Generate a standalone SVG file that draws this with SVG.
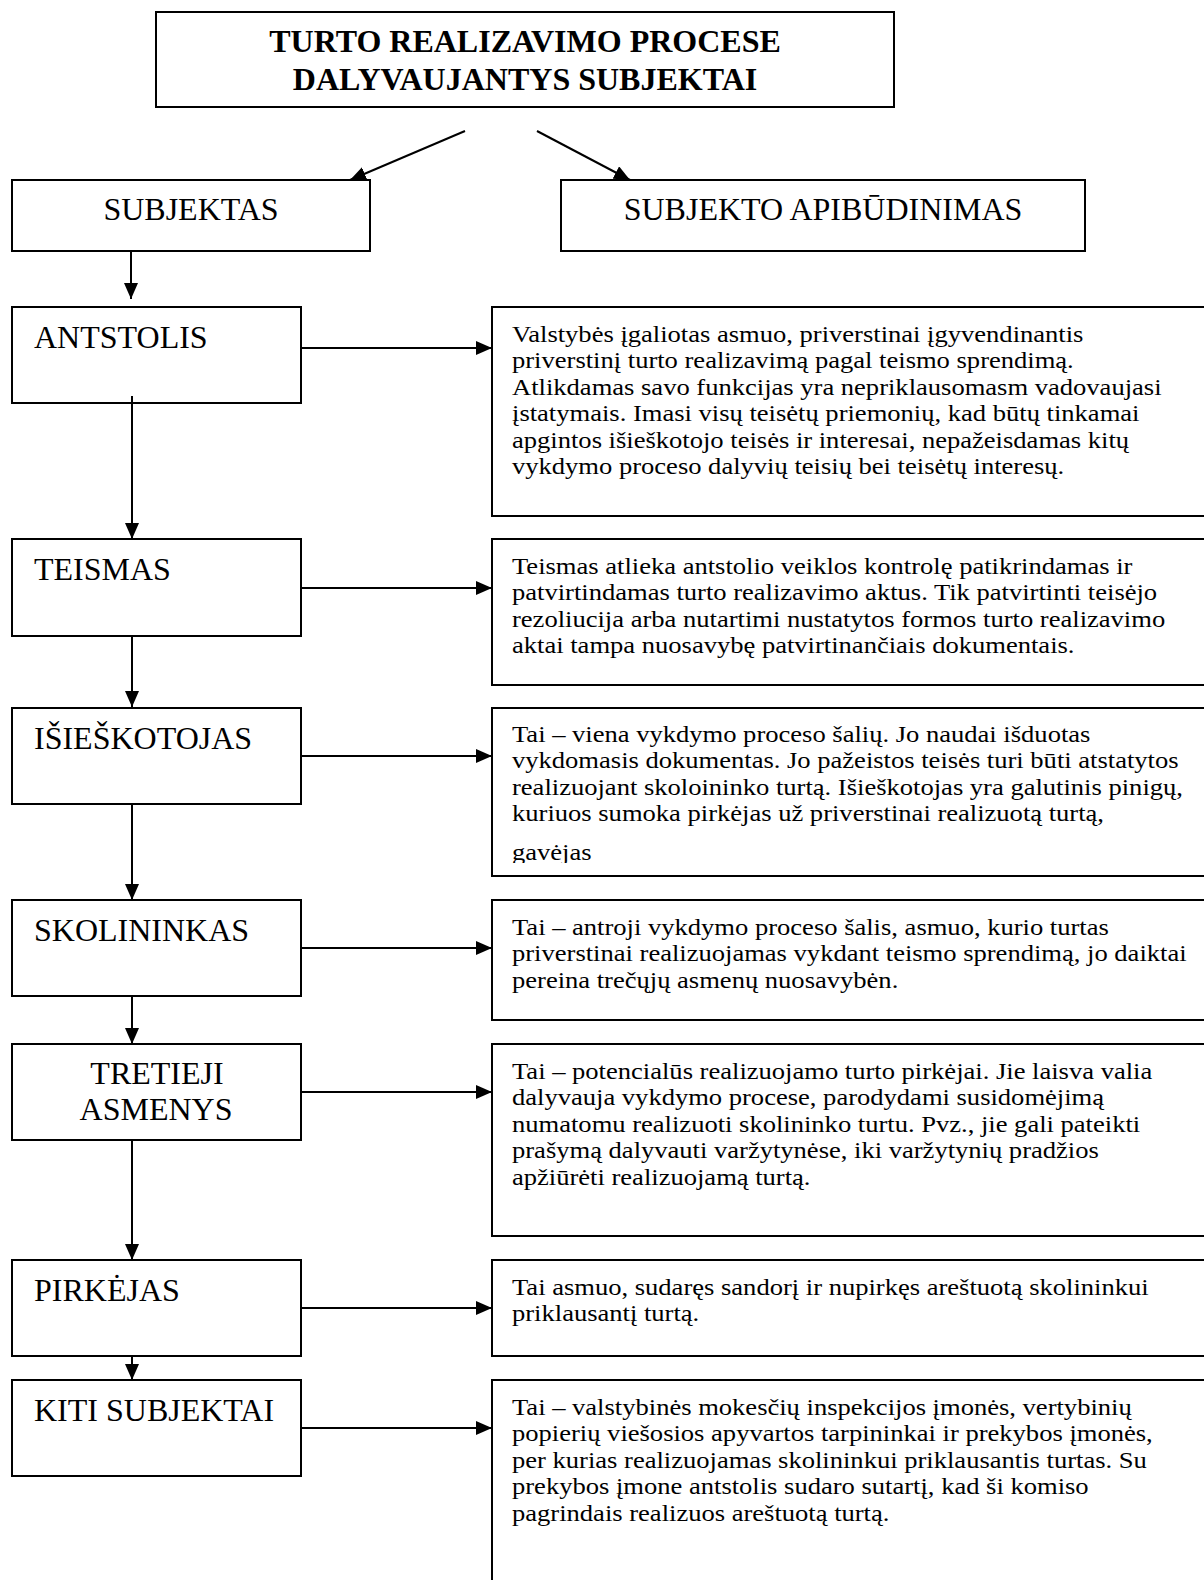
<svg xmlns="http://www.w3.org/2000/svg" width="1204" height="1580" viewBox="0 0 1204 1580">
<defs>
<style>
.box{fill:#fff;stroke:#000;stroke-width:2}
.lbl{font-family:"Liberation Serif","Times New Roman",serif;font-size:32px;fill:#000}
.ttl{font-family:"Liberation Serif","Times New Roman",serif;font-size:32px;font-weight:bold;fill:#000}
.body{font-family:"Liberation Serif","Times New Roman",serif;font-size:24px;fill:#000}
.con{fill:none;stroke:#000;stroke-width:2;marker-end:url(#ah)}
</style>
<marker id="ah" markerUnits="userSpaceOnUse" markerWidth="16" markerHeight="14" refX="16" refY="7" orient="auto" viewBox="0 0 16 14">
<path d="M0,0 L16,7 L0,14 z" fill="#000"/>
</marker>
<clipPath id="clip3"><rect x="492" y="708" width="720" height="155"/></clipPath>
</defs>
<rect width="1204" height="1580" fill="#fff"/>

<g id="title">
<rect class="box" x="156" y="12" width="738" height="95"/>
<text class="ttl" x="525" y="52" text-anchor="middle">TURTO REALIZAVIMO PROCESE</text>
<text class="ttl" x="525" y="90" text-anchor="middle">DALYVAUJANTYS SUBJEKTAI</text>
</g>

<g id="subjektas">
<rect class="box" x="12" y="180" width="358" height="71"/>
<text class="lbl" x="191" y="220" text-anchor="middle">SUBJEKTAS</text>
</g>

<g id="apibudinimas">
<rect class="box" x="561" y="180" width="524" height="71"/>
<text class="lbl" x="823" y="220" text-anchor="middle">SUBJEKTO APIBŪDINIMAS</text>
</g>

<g id="antstolis">
<rect class="box" x="12" y="307" width="289" height="96"/>
<text class="lbl" x="34" y="348">ANTSTOLIS</text>
</g>
<g id="teismas">
<rect class="box" x="12" y="539" width="289" height="97"/>
<text class="lbl" x="34" y="580">TEISMAS</text>
</g>
<g id="isieskotojas">
<rect class="box" x="12" y="708" width="289" height="96"/>
<text class="lbl" x="34" y="749">IŠIEŠKOTOJAS</text>
</g>
<g id="skolininkas">
<rect class="box" x="12" y="900" width="289" height="96"/>
<text class="lbl" x="34" y="941">SKOLININKAS</text>
</g>
<g id="tretieji">
<rect class="box" x="12" y="1044" width="289" height="96"/>
<text class="lbl" x="157" y="1084" text-anchor="middle">TRETIEJI</text>
<text class="lbl" x="156" y="1120" text-anchor="middle">ASMENYS</text>
</g>
<g id="pirkejas">
<rect class="box" x="12" y="1260" width="289" height="96"/>
<text class="lbl" x="34" y="1301">PIRKĖJAS</text>
</g>
<g id="kiti">
<rect class="box" x="12" y="1380" width="289" height="96"/>
<text class="lbl" x="34" y="1421">KITI SUBJEKTAI</text>
</g>

<g id="desc-antstolis">
<rect class="box" x="492" y="307" width="730" height="209"/>
<text class="body" transform="translate(512,0) scale(1.107,1)">
<tspan x="0" y="342">Valstybės įgaliotas asmuo,  priverstinai įgyvendinantis</tspan>
<tspan x="0" y="368.5">priverstinį turto realizavimą pagal teismo sprendimą.</tspan>
<tspan x="0" y="395">Atlikdamas savo funkcijas yra nepriklausomasm vadovaujasi</tspan>
<tspan x="0" y="421.5">įstatymais. Imasi visų teisėtų priemonių, kad būtų tinkamai</tspan>
<tspan x="0" y="448">apgintos išieškotojo teisės ir interesai, nepažeisdamas kitų</tspan>
<tspan x="0" y="474.5">vykdymo proceso dalyvių teisių bei teisėtų interesų.</tspan>
</text>
</g>

<g id="desc-teismas">
<rect class="box" x="492" y="539" width="730" height="146"/>
<text class="body" transform="translate(512,0) scale(1.107,1)">
<tspan x="0" y="574">Teismas atlieka antstolio veiklos kontrolę patikrindamas ir</tspan>
<tspan x="0" y="600.5">patvirtindamas turto realizavimo aktus. Tik patvirtinti teisėjo</tspan>
<tspan x="0" y="627">rezoliucija arba nutartimi nustatytos formos turto realizavimo</tspan>
<tspan x="0" y="653.5">aktai tampa nuosavybę patvirtinančiais dokumentais.</tspan>
</text>
</g>

<g id="desc-isieskotojas">
<rect class="box" x="492" y="708" width="730" height="168"/>
<g clip-path="url(#clip3)">
<text class="body" transform="translate(512,0) scale(1.107,1)">
<tspan x="0" y="742">Tai – viena vykdymo proceso šalių. Jo naudai išduotas</tspan>
<tspan x="0" y="768.5">vykdomasis dokumentas. Jo pažeistos teisės turi būti atstatytos</tspan>
<tspan x="0" y="795">realizuojant skoloininko turtą. Išieškotojas yra galutinis pinigų,</tspan>
<tspan x="0" y="821.5">kuriuos sumoka pirkėjas už priverstinai realizuotą turtą,</tspan>
<tspan x="0" y="860">gavėjas</tspan>
</text>
</g>
</g>

<g id="desc-skolininkas">
<rect class="box" x="492" y="900" width="730" height="120"/>
<text class="body" transform="translate(512,0) scale(1.107,1)">
<tspan x="0" y="935">Tai – antroji vykdymo proceso šalis, asmuo, kurio turtas</tspan>
<tspan x="0" y="961.5">priverstinai realizuojamas vykdant teismo sprendimą, jo daiktai</tspan>
<tspan x="0" y="988">pereina trečųjų asmenų nuosavybėn.</tspan>
</text>
</g>

<g id="desc-tretieji">
<rect class="box" x="492" y="1044" width="730" height="192"/>
<text class="body" transform="translate(512,0) scale(1.107,1)">
<tspan x="0" y="1079">Tai – potencialūs realizuojamo turto pirkėjai. Jie laisva valia</tspan>
<tspan x="0" y="1105.5">dalyvauja vykdymo procese, parodydami susidomėjimą</tspan>
<tspan x="0" y="1132">numatomu realizuoti skolininko turtu. Pvz., jie gali pateikti</tspan>
<tspan x="0" y="1158.5">prašymą dalyvauti varžytynėse, iki varžytynių pradžios</tspan>
<tspan x="0" y="1185">apžiūrėti realizuojamą turtą.</tspan>
</text>
</g>

<g id="desc-pirkejas">
<rect class="box" x="492" y="1260" width="730" height="96"/>
<text class="body" transform="translate(512,0) scale(1.107,1)">
<tspan x="0" y="1295">Tai asmuo, sudaręs sandorį ir nupirkęs areštuotą skolininkui</tspan>
<tspan x="0" y="1321.5">priklausantį turtą.</tspan>
</text>
</g>

<g id="desc-kiti">
<rect class="box" x="492" y="1380" width="730" height="230"/>
<text class="body" transform="translate(512,0) scale(1.107,1)">
<tspan x="0" y="1415">Tai – valstybinės mokesčių inspekcijos įmonės, vertybinių</tspan>
<tspan x="0" y="1441.5">popierių viešosios apyvartos tarpininkai ir prekybos įmonės,</tspan>
<tspan x="0" y="1468">per kurias realizuojamas skolininkui priklausantis turtas. Su</tspan>
<tspan x="0" y="1494.5">prekybos įmone antstolis sudaro sutartį, kad ši komiso</tspan>
<tspan x="0" y="1521">pagrindais realizuos areštuotą turtą.</tspan>
</text>
</g>

<g id="connectors">
<line class="con" x1="465" y1="131" x2="350" y2="180"/>
<line class="con" x1="537" y1="131" x2="630" y2="180"/>
<line class="con" x1="131" y1="252" x2="131" y2="299"/>
<line class="con" x1="132" y1="396" x2="132" y2="539"/>
<line class="con" x1="132" y1="636" x2="132" y2="707"/>
<line class="con" x1="132" y1="804" x2="132" y2="900"/>
<line class="con" x1="132" y1="996" x2="132" y2="1044"/>
<line class="con" x1="132" y1="1140" x2="132" y2="1260"/>
<line class="con" x1="132" y1="1356" x2="132" y2="1380"/>
<line class="con" x1="301" y1="348" x2="492" y2="348"/>
<line class="con" x1="301" y1="588" x2="492" y2="588"/>
<line class="con" x1="301" y1="756" x2="492" y2="756"/>
<line class="con" x1="301" y1="948" x2="492" y2="948"/>
<line class="con" x1="301" y1="1092" x2="492" y2="1092"/>
<line class="con" x1="301" y1="1308" x2="492" y2="1308"/>
<line class="con" x1="301" y1="1428" x2="492" y2="1428"/>
</g>
</svg>
